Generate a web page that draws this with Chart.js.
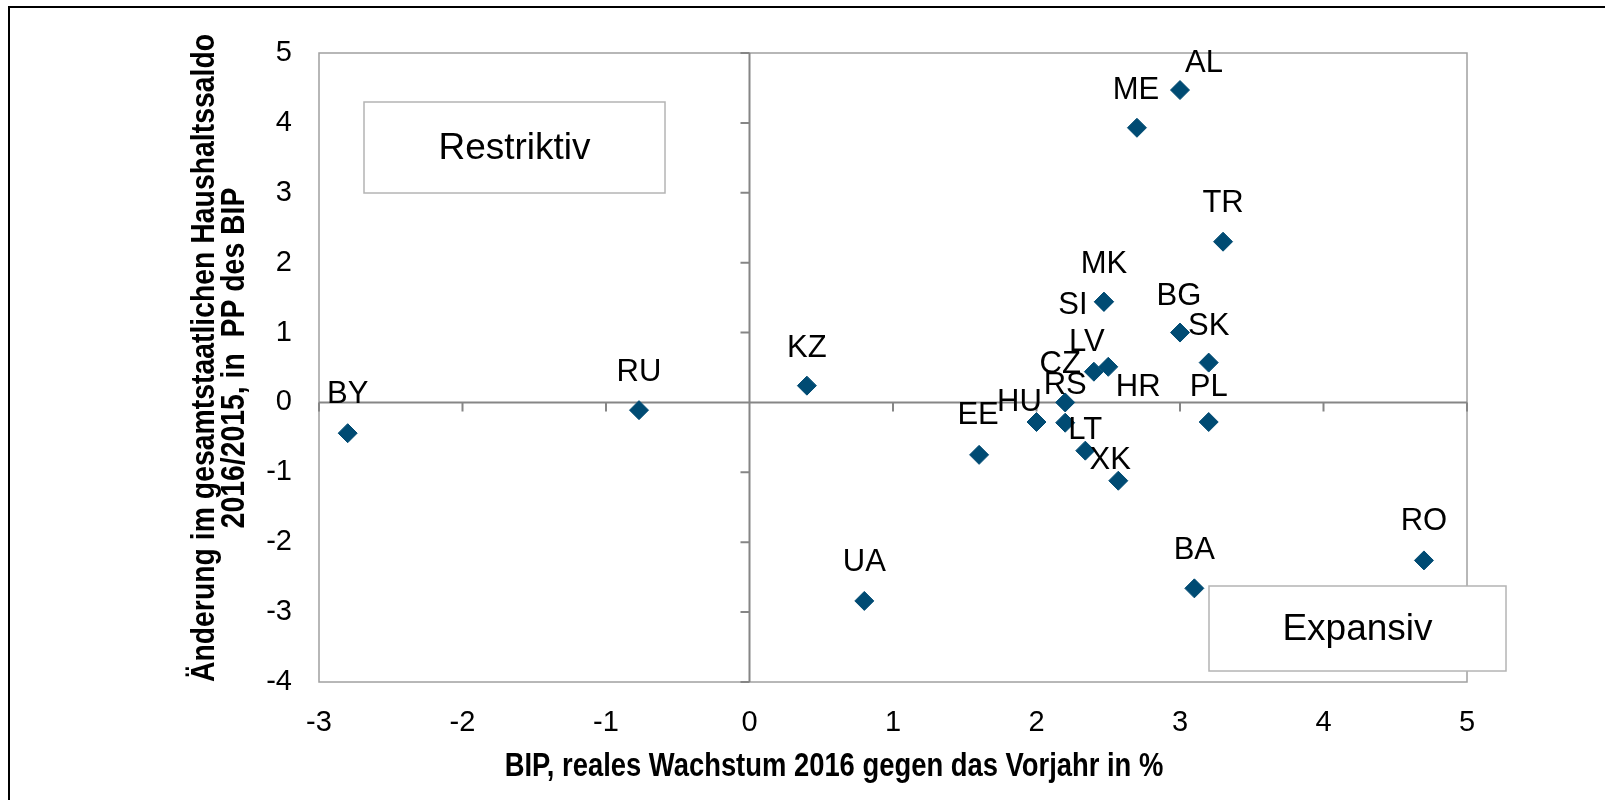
<!DOCTYPE html>
<html>
<head>
<meta charset="utf-8">
<script src="https://cdn.jsdelivr.net/npm/chart.js@4.4.0/dist/chart.umd.min.js"></script>
<style>
  html, body { margin: 0; padding: 0; background: #fff; }
  #wrap { width: 1605px; height: 800px; }
</style>
</head>
<body>
<div id="wrap"><canvas id="chart" width="1605" height="800"></canvas></div>
<script>
// country codes, GDP growth 2016 (x) and change in budget balance (y)
const countries = ['AL', 'ME', 'TR', 'MK', 'SI', 'BG', 'SK', 'PL', 'LV', 'HR', 'CZ',
                   'RS', 'HU', 'LT', 'XK', 'EE', 'KZ', 'BY', 'RU', 'UA', 'BA', 'RO'];
const gdpGrowth = [3.0, 2.7, 3.3, 2.47, 2.47, 3.0, 3.2, 3.2, 2.4, 2.5, 2.2,
                   2.2, 2.0, 2.34, 2.57, 1.6, 0.4, -2.8, -0.77, 0.8, 3.1, 4.7];
const balanceChange = [4.47, 3.93, 2.30, 1.44, 1.44, 1.0, 0.57, -0.28, 0.44, 0.51, 0.0,
                       -0.29, -0.28, -0.69, -1.12, -0.75, 0.24, -0.44, -0.11, -2.84, -2.66, -2.26];

const xTitle = 'BIP, reales Wachstum 2016 gegen das Vorjahr in %';
const yTitle = ['Änderung im gesamtstaatlichen Haushaltssaldo', '2016/2015, in  PP des BIP'];

// where each data label sits relative to its marker (px)
const labelOffset = {
  AL: [24, -28], ME: [-1, -38], TR: [0, -39], MK: [0, -38], SI: [-31, 3],
  BG: [-1, -37], SK: [0, -37], PL: [0, -36], LV: [-7, -30], HR: [30, 20],
  CZ: [-5, -39], RS: [0, -38], HU: [-17, -21], LT: [0, -21], XK: [-8, -21],
  EE: [-1, -40], KZ: [0, -38], BY: [0, -40], RU: [0, -39], UA: [0, -39],
  BA: [0, -39], RO: [0, -40]
};

const MARKER = '#004b73';
const SANS = "'Liberation Sans', Arial, sans-serif";

function textBox(ctx, left, top, w, h, text) {
  ctx.fillStyle = '#fff';
  ctx.fillRect(left, top, w, h);
  ctx.strokeStyle = '#b4b4b4';
  ctx.lineWidth = 1.5;
  ctx.strokeRect(left, top, w, h);
  ctx.fillStyle = '#000';
  ctx.font = '37px ' + SANS;
  ctx.textAlign = 'center';
  ctx.textBaseline = 'middle';
  ctx.fillText(text, left + w / 2, top + h / 2 + 1);
}

// squeezed text to imitate Arial Narrow
function narrowText(ctx, text, x, y, squeeze) {
  ctx.save();
  ctx.translate(x, y);
  ctx.scale(squeeze, 1);
  ctx.fillText(text, 0, 0);
  ctx.restore();
}

const quadrants = {
  id: 'quadrants',
  beforeDatasetsDraw(chart) {
    const { ctx, chartArea: a, scales: { x, y } } = chart;
    ctx.save();
    ctx.strokeStyle = '#a0a0a0';
    ctx.lineWidth = 1.5;
    ctx.strokeRect(a.left, a.top, a.right - a.left, a.bottom - a.top);

    const x0 = x.getPixelForValue(0);
    const y0 = y.getPixelForValue(0);
    ctx.strokeStyle = '#868686';
    ctx.lineWidth = 2;
    ctx.beginPath();
    ctx.moveTo(x0, a.top); ctx.lineTo(x0, a.bottom);
    ctx.moveTo(a.left, y0); ctx.lineTo(a.right, y0);
    y.ticks.forEach(t => {
      const py = y.getPixelForValue(t.value);
      ctx.moveTo(x0 - 9, py); ctx.lineTo(x0, py);
    });
    x.ticks.forEach(t => {
      const px = x.getPixelForValue(t.value);
      ctx.moveTo(px, y0); ctx.lineTo(px, y0 + 9);
    });
    ctx.stroke();
    ctx.restore();
  },
  afterDatasetsDraw(chart) {
    const ctx = chart.ctx;
    const meta = chart.getDatasetMeta(0);
    ctx.save();

    // data labels
    ctx.fillStyle = '#000';
    ctx.font = '31px ' + SANS;
    ctx.textAlign = 'center';
    ctx.textBaseline = 'middle';
    meta.data.forEach((pt, i) => {
      const off = labelOffset[countries[i]] || [0, -38];
      ctx.fillText(countries[i], pt.x + off[0], pt.y + off[1] + 1);
    });

    // quadrant captions
    textBox(ctx, 364, 102, 301, 91, 'Restriktiv');
    textBox(ctx, 1209, 586, 297, 85, 'Expansiv');

    // axis titles
    ctx.fillStyle = '#000';
    ctx.font = 'bold 33px ' + SANS;
    ctx.textAlign = 'center';
    ctx.textBaseline = 'middle';
    narrowText(ctx, xTitle, 834, 767, 0.83);
    ctx.save();
    ctx.translate(0, 358);
    ctx.rotate(-Math.PI / 2);
    narrowText(ctx, yTitle[0], 0, 205, 0.86);
    narrowText(ctx, yTitle[1], 0, 235, 0.86);
    ctx.restore();

    // outer frame
    ctx.strokeStyle = '#000';
    ctx.lineWidth = 2;
    ctx.beginPath();
    ctx.moveTo(9, 820); ctx.lineTo(9, 7); ctx.lineTo(1620, 7);
    ctx.stroke();
    ctx.restore();
  }
};

new Chart(document.getElementById('chart'), {
  type: 'scatter',
  data: {
    datasets: [{
      data: gdpGrowth.map((g, i) => ({ x: g, y: balanceChange[i] })),
      pointStyle: 'rectRot',
      pointRadius: 9.5,
      pointBackgroundColor: MARKER,
      pointBorderColor: MARKER,
      pointBorderWidth: 1
    }]
  },
  options: {
    responsive: false,
    animation: false,
    layout: { padding: { top: 53, right: 138, left: 0, bottom: 0 } },
    plugins: {
      legend: { display: false },
      tooltip: { enabled: false }
    },
    scales: {
      x: {
        type: 'linear',
        min: -3,
        max: 5,
        ticks: { stepSize: 1, color: '#000', font: { family: SANS, size: 29 }, padding: 24 },
        grid: { display: false, drawTicks: false },
        border: { display: false },
        afterFit(scale) { scale.height = 118; }
      },
      y: {
        min: -4,
        max: 5,
        ticks: { stepSize: 1, color: '#000', font: { family: SANS, size: 29 }, padding: 27 },
        grid: { display: false, drawTicks: false },
        border: { display: false },
        afterFit(scale) { scale.width = 319; }
      }
    }
  },
  plugins: [quadrants]
});
</script>
</body>
</html>
